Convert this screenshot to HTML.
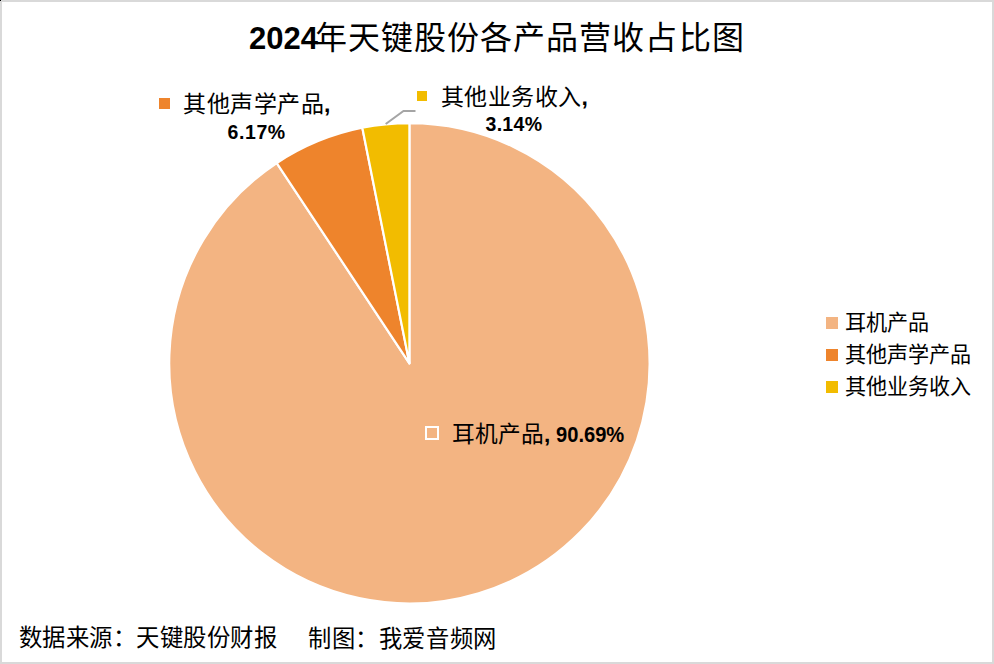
<!DOCTYPE html>
<html lang="zh-CN">
<head>
<meta charset="utf-8">
<style>
html,body{margin:0;padding:0;background:#fff;}
body{width:994px;height:664px;position:relative;overflow:hidden;font-family:"Liberation Sans",sans-serif;color:#000;}
.frame{position:absolute;left:0;top:0;width:990px;height:660px;border:2px solid #d9d9d9;}
.dot{position:absolute;left:0;top:0;width:1px;height:1px;background:#000;}
.t{position:absolute;white-space:nowrap;line-height:1;}
.b{font-weight:bold;}
.sq{position:absolute;}
svg{position:absolute;left:0;top:0;}
</style>
</head>
<body>
<div class="frame"></div>
<div class="dot"></div>

<svg width="994" height="664" viewBox="0 0 994 664">
  <g stroke="#ffffff" stroke-width="2.2" stroke-linejoin="round">
    <path d="M409.4 363.3 L409.4 123.10 A240.2 240.2 0 1 1 276.77 163.04 Z" fill="#F3B482"/>
    <path d="M409.4 363.3 L276.77 163.04 A240.2 240.2 0 0 1 362.32 127.76 Z" fill="#EE842C"/>
    <path d="M409.4 363.3 L362.32 127.76 A240.2 240.2 0 0 1 409.4 123.10 Z" fill="#F2BC00"/>
  </g>
  <polyline points="385.7,124 403.5,111 415.5,111" fill="none" stroke="#a5a5a5" stroke-width="2.1"/>
  <rect x="159" y="98" width="11" height="11" fill="#EE842C"/>
  <rect x="417" y="91" width="10" height="10" fill="#F2BC00"/>
  <rect x="426" y="427" width="12" height="12" fill="none" stroke="#fff" stroke-width="2"/>
  <rect x="826" y="317" width="12" height="12" fill="#F3B482"/>
  <rect x="826" y="349" width="12" height="12" fill="#EE842C"/>
  <rect x="826" y="381" width="12" height="12" fill="#F2BC00"/>
</svg>

<!-- title -->
<div class="t b" id="t2024" style="left:249px;top:22.5px;font-size:31px;">2024</div>
<div class="t" id="title" style="left:315px;top:22px;font-size:32px;letter-spacing:1.05px;">年天键股份各产品营收占比图</div>

<!-- label other acoustic -->
<div class="t" id="l1" style="left:183px;top:92.5px;font-size:23px;letter-spacing:0.5px;">其他声学产品<span class="b">,</span></div>
<div class="t b" id="l1p" style="left:227.5px;top:122.5px;font-size:19.5px;letter-spacing:0.6px;">6.17%</div>

<!-- label other business -->
<div class="t" id="l2" style="left:441px;top:85.5px;font-size:23px;letter-spacing:0.4px;">其他业务收入<span class="b">,</span></div>
<div class="t b" id="l2p" style="left:485.5px;top:115.3px;font-size:19.5px;letter-spacing:0.3px;">3.14%</div>

<!-- in-pie label -->
<div class="t" id="l3" style="left:452px;top:423px;font-size:22.7px;">耳机产品<span class="b">, </span></div>
<div class="t b" id="l3p" style="left:556px;top:423.6px;font-size:22px;transform:scaleX(0.915);transform-origin:0 0;">90.69%</div>

<!-- legend -->
<div class="t" id="g1" style="left:845px;top:312px;font-size:21.1px;">耳机产品</div>
<div class="t" id="g2" style="left:845px;top:344px;font-size:21.1px;">其他声学产品</div>
<div class="t" id="g3" style="left:845px;top:376px;font-size:21.1px;">其他业务收入</div>

<!-- footer -->
<div class="t" id="f1" style="left:19px;top:627px;font-size:23.4px;letter-spacing:0.47px;">数据来源：天键股份财报</div>
<div class="t" id="f2" style="left:308px;top:627.5px;font-size:23.3px;letter-spacing:0.6px;">制图：我爱音频网</div>
</body>
</html>
